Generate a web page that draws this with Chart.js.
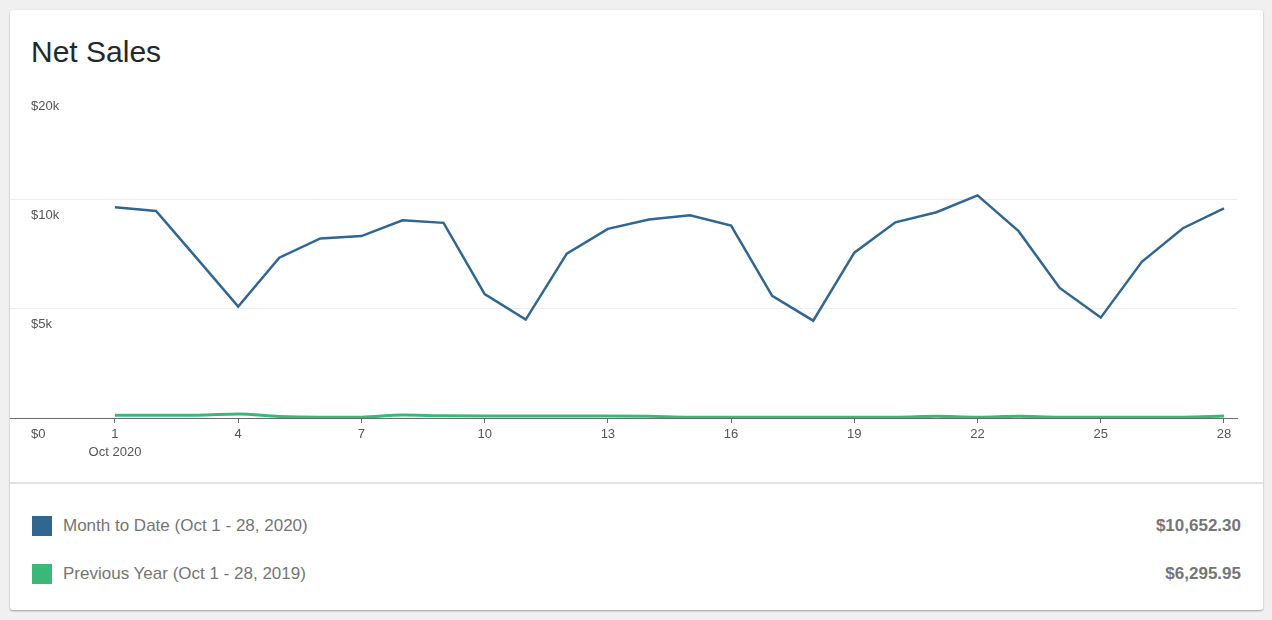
<!DOCTYPE html>
<html>
<head>
<meta charset="utf-8">
<title>Net Sales</title>
<script src="https://cdn.jsdelivr.net/npm/chart.js@4/dist/chart.umd.min.js"></script>
<style>
  body {
    margin: 0;
    background: #f0f0f0;
    font-family: 'Liberation Sans', Arial, sans-serif;
  }
  .card {
    position: absolute;
    left: 10px;
    top: 10px;
    width: 1253px;
    height: 600px;
    background: #fff;
    border-radius: 3px;
    box-shadow: 0 1px 2px rgba(0, 0, 0, 0.35);
  }
  .card h2 {
    position: absolute;
    left: 21px;
    top: 27px;
    margin: 0;
    font-size: 30px;
    line-height: 30px;
    font-weight: normal;
    color: #23282d;
  }
  .chart-wrap {
    position: absolute;
    left: 0;
    top: 70px;
    width: 1253px;
    height: 400px;
  }
  .legend {
    position: absolute;
    left: 0;
    top: 472px;
    width: 1253px;
    border-top: 2px solid #e2e2e2;
  }
  .legend-row {
    position: absolute;
    left: 22px;
    right: 22px;
    height: 20px;
    display: flex;
    align-items: center;
    font-size: 17px;
    color: #757575;
  }
  .legend-row .swatch {
    width: 20px;
    height: 20px;
    margin-right: 11px;
  }
  .legend-row .name {
    flex: 1;
  }
  .legend-row .total {
    font-weight: bold;
  }
</style>
</head>
<body>
<div class="card">
  <h2>Net Sales</h2>
  <div class="chart-wrap"><canvas id="salesChart"></canvas></div>
  <div class="legend" id="legend"></div>
</div>

<script>
// days of October shown on the x axis
const days = [1, 2, 3, 4, 5, 6, 7, 8, 9, 10, 11, 12, 13, 14, 15, 16, 17, 18, 19, 20, 21, 22, 23, 24, 25, 26, 27, 28];

// Month to Date (Oct 1 - 28, 2020)
const monthToDate = [9640, 9470, 7290, 5100, 7330, 8210, 8320, 9045, 8925, 5670, 4500, 7515, 8650, 9075,
  9270, 8800, 5590, 4450, 7560, 8950, 9410, 10180, 8545, 5950, 4590, 7140, 8680, 9590];

// Previous Year (Oct 1 - 28, 2019)
const previousYear = [130, 130, 130, 180, 70, 40, 40, 140, 100, 90, 90, 90, 90, 80,
  40, 40, 40, 40, 40, 40, 80, 40, 80, 40, 40, 40, 40, 90];

const seriesNames = ['Month to Date (Oct 1 - 28, 2020)', 'Previous Year (Oct 1 - 28, 2019)'];
const seriesTotals = ['$10,652.30', '$6,295.95'];

const xTicks = [1, 4, 7, 10, 13, 16, 19, 22, 25, 28];
const xMonthLabel = 'Oct 2020';
const yTicks = [0, 5000, 10000, 15000];
const yTickLabels = ['$0', '$5k', '$10k', '$20k'];

const blue = '#30668f';
const green = '#3ab87a';
const seriesColors = [blue, green];

// build the html legend under the chart
const legendEl = document.getElementById('legend');
const rowTops = [32, 80];
seriesNames.forEach((name, i) => {
  const row = document.createElement('div');
  row.className = 'legend-row';
  row.style.top = rowTops[i] + 'px';
  row.innerHTML = '<span class="swatch" style="background:' + seriesColors[i] + '"></span>' +
    '<span class="name">' + name + '</span><span class="total">' + seriesTotals[i] + '</span>';
  legendEl.appendChild(row);
});

Chart.defaults.font.family = "'Liberation Sans', Arial, sans-serif";

const ctx = document.getElementById('salesChart').getContext('2d');
new Chart(ctx, {
  type: 'line',
  data: {
    labels: days,
    datasets: [
      {
        label: seriesNames[1],
        data: previousYear,
        borderColor: green,
        borderWidth: 3,
        pointRadius: 0,
        cubicInterpolationMode: 'monotone',
        fill: false,
      },
      {
        label: seriesNames[0],
        data: monthToDate,
        borderColor: blue,
        borderWidth: 2.5,
        pointRadius: 0,
        tension: 0,
        fill: false,
      },
    ],
  },
  options: {
    responsive: true,
    maintainAspectRatio: false,
    animation: false,
    layout: {
      padding: { left: 0, right: 26, top: 10, bottom: 22 },
    },
    plugins: {
      legend: { display: false },
      tooltip: { enabled: false },
    },
    scales: {
      x: {
        type: 'linear',
        min: -1.556,
        max: 28.317,
        afterBuildTicks: (scale) => {
          scale.ticks = xTicks.map(v => ({ value: v }));
        },
        afterFit: (scale) => {
          scale.height = 40;
          scale.paddingLeft = 0;
          scale.paddingRight = 0;
        },
        ticks: {
          autoSkip: false,
          maxRotation: 0,
          padding: 3,
          color: '#555',
          font: { size: 13, lineHeight: 1.35 },
          callback: (value) => (value === xTicks[0] ? [String(value), xMonthLabel] : String(value)),
        },
        grid: {
          drawOnChartArea: false,
          drawTicks: true,
          tickLength: 5,
          color: '#6b6b6b',
        },
        border: { display: true, color: '#6b6b6b', width: 1 },
      },
      y: {
        min: 0,
        max: 15000,
        afterBuildTicks: (scale) => {
          scale.ticks = yTicks.map(v => ({ value: v }));
        },
        afterFit: (scale) => {
          scale.width = 0;
          scale.paddingTop = 0;
          scale.paddingBottom = 0;
        },
        ticks: {
          mirror: true,
          padding: 21,
          labelOffset: 16,
          color: '#555',
          font: { size: 13 },
          callback: (value, index) => yTickLabels[index],
        },
        grid: {
          drawTicks: false,
          color: (c) => (c.tick && (c.tick.value === 0 || c.tick.value === 15000) ? 'rgba(0,0,0,0)' : '#ececec'),
        },
        border: { display: false },
      },
    },
  },
});
</script>
</body>
</html>
